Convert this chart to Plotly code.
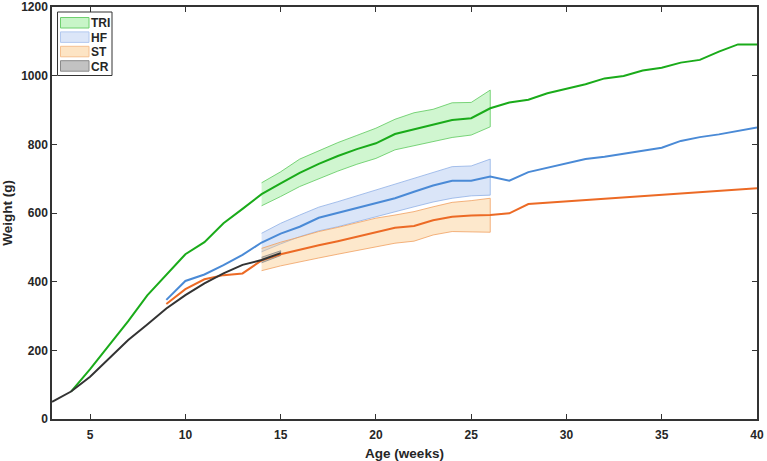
import plotly.graph_objects as go

# ---------------- data ----------------
weeks_tri = list(range(4, 41))
tri_mean = [80, 145, 215, 285, 360, 420, 480, 515, 570, 612, 655, 686, 717, 743, 766, 786, 803,
            830, 844, 856, 871, 876, 905, 922, 930, 949, 961, 975, 992, 999, 1015, 1023, 1038,
            1046, 1070, 1091, 1091]

weeks_hf = list(range(9, 41))
hf_mean = [347, 402, 421, 448, 478, 514, 540, 560, 586, 600, 614, 628, 643, 662, 680, 694, 694,
           706, 694, 719, 732, 745, 757, 764, 772, 781, 790, 810, 821, 829, 839, 849]

weeks_st = list(range(9, 41))
st_mean = [335, 378, 407, 419, 424, 462, 480, 494, 506, 518, 531, 545, 557, 562, 579, 589, 593,
           594, 599, 626, 630, 634, 638, 641, 645, 649, 653, 657, 661, 665, 668, 672]

weeks_cr = list(range(3, 16))
cr_mean = [50, 80, 123, 177, 230, 275, 322, 361, 395, 424, 449, 463, 483]

band_weeks = list(range(14, 27))
tri_upper = [688, 720, 757, 782, 805, 826, 847, 873, 892, 902, 921, 922, 958]
tri_lower = [621, 648, 677, 700, 722, 742, 759, 784, 798, 808, 820, 827, 851]
hf_upper = [541, 570, 594, 617, 633, 650, 667, 682, 701, 717, 735, 737, 757]
hf_lower = [487, 510, 531, 548, 560, 575, 589, 603, 618, 632, 643, 650, 652]
st_upper = [497, 515, 530, 546, 558, 572, 585, 594, 604, 618, 631, 636, 643]
st_lower = [432, 446, 458, 469, 480, 491, 502, 512, 518, 536, 546, 544, 544]

cr_band_weeks = [14, 15]
cr_upper = [471, 490]
cr_lower = [455, 476]

legend_labels = ["TRI", "HF", "ST", "CR"]
x_ticks = [5, 10, 15, 20, 25, 30, 35, 40]
y_ticks = [0, 200, 400, 600, 800, 1000, 1200]

# ---------------- styles ----------------
C_TRI, C_HF, C_ST, C_CR = "#1aab1a", "#4a8ad6", "#ec6a25", "#333333"
F_TRI, F_HF, F_ST, F_CR = "rgba(120,230,120,0.35)", "rgba(150,180,235,0.35)", \
    "rgba(250,195,120,0.38)", "rgba(120,120,120,0.35)"
E_TRI, E_HF, E_ST, E_CR = "#5cc95c", "#8fb0e6", "#f0a060", "#888888"
SW_FILL = ["#c8f5c8", "#dce6f8", "#fde4c4", "#c2c2c2"]
SW_EDGE = ["#6fd06f", "#b3c9ef", "#f5c090", "#8a8a8a"]

FONT = "Liberation Sans, Arial, sans-serif"

W, H = 767, 461
ML, MR, MT, MB = 52, 10, 7, 42
PW, PH = W - ML - MR, H - MT - MB

fig = go.Figure()


def band(x, up, lo, fill, edge):
    fig.add_trace(go.Scatter(
        x=list(x) + list(x)[::-1], y=list(up) + list(lo)[::-1],
        fill="toself", fillcolor=fill, mode="lines",
        line=dict(color=edge, width=0.8), showlegend=False, hoverinfo="skip"))


band(band_weeks, tri_upper, tri_lower, F_TRI, E_TRI)
band(band_weeks, hf_upper, hf_lower, F_HF, E_HF)
band(band_weeks, st_upper, st_lower, F_ST, E_ST)
band(cr_band_weeks, cr_upper, cr_lower, F_CR, E_CR)


def line(x, y, color):
    fig.add_trace(go.Scatter(x=x, y=y, mode="lines", line=dict(color=color, width=2),
                             showlegend=False))


line(weeks_st, st_mean, C_ST)
line(weeks_hf, hf_mean, C_HF)
line(weeks_tri, tri_mean, C_TRI)
line(weeks_cr, cr_mean, C_CR)


# ---------------- custom legend (paper coords from pixels) ----------------
def px(xp):
    return (xp - ML) / PW


def py(yp):
    return (H - MB - yp) / PH


shapes = [dict(type="rect", xref="paper", yref="paper",
               x0=px(57.5), x1=px(112), y0=py(75.5), y1=py(12),
               fillcolor="white", line=dict(color="#333333", width=1), layer="above")]
annotations = []
for i, lab in enumerate(legend_labels):
    top = 17.5 + i * 14.4
    shapes.append(dict(type="rect", xref="paper", yref="paper",
                       x0=px(60.5), x1=px(89), y0=py(top + 10.5), y1=py(top),
                       fillcolor=SW_FILL[i], line=dict(color=SW_EDGE[i], width=1),
                       layer="above"))
    annotations.append(dict(xref="paper", yref="paper", x=px(89), y=py(top + 5.8),
                            xanchor="left", yanchor="middle", showarrow=False,
                            text=f"<b>{lab}</b>",
                            font=dict(family=FONT, size=12, color="#262626")))

axis_common = dict(showgrid=False, zeroline=False, showline=True, linecolor="#333333",
                   linewidth=1.5, mirror="ticks", ticks="inside", ticklen=5,
                   tickcolor="#333333", tickwidth=1.2, automargin=False,
                   ticklabeloverflow="allow",
                   tickfont=dict(family=FONT, size=12, color="#262626"))

fig.update_layout(
    width=W, height=H,
    margin=dict(l=ML, r=MR, t=MT, b=MB),
    paper_bgcolor="white", plot_bgcolor="white",
    font=dict(family=FONT, color="#262626"),
    xaxis=dict(range=[3, 40], tickvals=x_ticks,
               ticktext=[f"<b>{v}</b>" for v in x_ticks],
               ticklabelstandoff=4,
               title=dict(text="<b>Age (weeks)</b>", font=dict(family=FONT, size=13.5), standoff=7),
               **axis_common),
    yaxis=dict(range=[0, 1200], tickvals=y_ticks,
               ticktext=[f"<b>{v}</b>" for v in y_ticks],
               title=dict(text="<b>Weight (g)</b>", font=dict(family=FONT, size=13.5), standoff=12),
               **axis_common),
    shapes=shapes,
    annotations=annotations,
    showlegend=False,
)

fig.write_html("out.html")
